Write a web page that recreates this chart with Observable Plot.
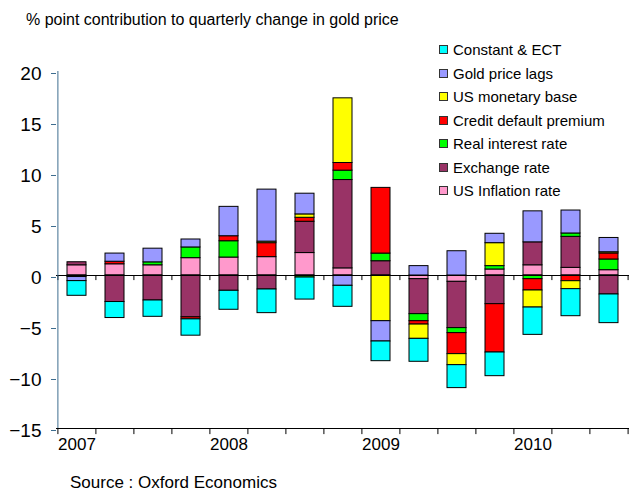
<!DOCTYPE html>
<html>
<head>
<meta charset="utf-8">
<script src="https://cdn.jsdelivr.net/npm/d3@7"></script>
<script src="https://cdn.jsdelivr.net/npm/@observablehq/plot@0.6"></script>
<style>
  body { margin: 0; background: #fff; font-family: "Liberation Sans", Arial, sans-serif; }
  #wrap { position: relative; width: 630px; height: 491px; overflow: hidden; background: #fff; }
  #chart { position: absolute; left: 0; top: 0; }
  .title { position: absolute; left: 26px; top: 12px; font-size: 16px; line-height: 16px; white-space: nowrap; color: #000; }
  .source { position: absolute; left: 70px; top: 474px; font-size: 17px; line-height: 17px; white-space: nowrap; color: #000; }
  .legend { position: absolute; left: 439px; top: 38px; }
  .legend .row { height: 23.5px; display: flex; align-items: center; font-size: 15px; white-space: nowrap; }
  .legend .sw { width: 7px; height: 7px; border: 1px solid #333; margin-right: 5px; flex: none; }
</style>
</head>
<body>
<div id="wrap">
  <div id="chart"></div>
  <div class="title">% point contribution to quarterly change in gold price</div>
  <div class="legend" id="legend"></div>
  <div class="source">Source : Oxford Economics</div>
</div>
<script>
// Quarters (categories)
const quarters = ["2007 Q1","2007 Q2","2007 Q3","2007 Q4","2008 Q1","2008 Q2","2008 Q3","2008 Q4",
                  "2009 Q1","2009 Q2","2009 Q3","2009 Q4","2010 Q1","2010 Q2","2010 Q3"];
// Year tick labels on the category axis
const yearTicks = ["2007 Q1","2008 Q1","2009 Q1","2010 Q1"];
const yearLabels = ["2007","2008","2009","2010"];
// Y axis ticks
const yTicks = [-15,-10,-5,0,5,10,15,20];

// Series in stacking order (bottom first)
const seriesNames = ["US Inflation rate","Exchange rate","Real interest rate","Credit default premium",
                     "US monetary base","Gold price lags","Constant & ECT"];
const inflation = [1.0, 1.1, 1.0, 1.7, 1.76, 1.8, 2.2, 0.7, 0, -0.36, -0.62, 0.59, 1.0, 0.75, 0.52];
const exchange  = [0.3, -2.6, -2.45, -4.1, -1.5, -1.37, 3.07, 8.66, 1.4, -3.43, -4.54, -2.81, 2.25, 3.04, -1.86];
const realRate  = [-0.15, 0, 0.29, 1.05, 1.6, 0, -0.2, 0.92, 0.75, -0.69, -0.49, 0.33, -0.36, 0.33, 1.05];
const credit    = [0, 0.25, 0, -0.2, 0.49, 1.37, 0.39, 0.75, 6.44, -0.33, -2.06, -4.74, -1.11, -0.56, 0.59];
const monetary  = [0, 0, 0, 0, 0, 0.15, 0.33, 6.34, -4.48, -1.4, -1.08, 2.25, -1.67, -0.78, 0.12];
const goldLags  = [-0.4, 0.8, 1.34, 0.78, 2.88, 5.1, 2.03, -1.01, -1.99, 0.92, 2.38, 0.92, 3.04, 2.25, 1.4];
const constant  = [-1.44, -1.57, -1.6, -1.6, -1.86, -2.32, -2.16, -2.06, -1.93, -2.25, -2.25, -2.32, -2.68, -2.65, -2.81];

// Styles
const seriesColors = ["#FF99CC","#993366","#00FF00","#FF0000","#FFFF00","#9999FF","#00FFFF"];
const axisColor = "#3d6d8f";

const seriesValues = [inflation, exchange, realRate, credit, monetary, goldLags, constant];
const rows = [];
seriesNames.forEach((s, si) => {
  seriesValues[si].forEach((v, qi) => {
    if (v !== 0) rows.push({quarter: quarters[qi], series: s, value: v});
  });
});

const W = 630, H = 491, mL = 56, mR = 1, mT = 71, mB = 63;
const step = (W - mL - mR) / quarters.length;
const lastQ = [quarters[quarters.length - 1]];
const firstQ = [quarters[0]];

const chart = Plot.plot({
  width: W, height: H,
  marginLeft: mL, marginRight: mR, marginTop: mT, marginBottom: mB,
  style: {fontFamily: "'Liberation Sans', Arial, sans-serif", background: "white", color: "black"},
  x: {type: "band", domain: quarters, paddingInner: 0.5, paddingOuter: 0.25, align: 0.5},
  y: {domain: [-15, 20]},
  color: {domain: seriesNames, range: seriesColors},
  marks: [
    Plot.barY(rows, {x: "quarter", y: "value", fill: "series", stroke: "black", strokeWidth: 1}),
    // zero line with category tick marks
    Plot.ruleY([0], {stroke: "black", strokeWidth: 1}),
    Plot.ruleX(quarters, {x: d => d, y1: 0, y2: -0.5, dx: -step / 2, stroke: "black"}),
    Plot.ruleX(lastQ, {x: d => d, y1: 0, y2: -0.5, dx: step / 2, stroke: "black"}),
    // bottom category axis line with ticks
    Plot.ruleY([-15], {stroke: "black", strokeWidth: 1}),
    Plot.ruleX(quarters, {x: d => d, y1: -15, y2: -15.6, dx: -step / 2, stroke: "black"}),
    Plot.ruleX(lastQ, {x: d => d, y1: -15, y2: -15.6, dx: step / 2, stroke: "black"}),
    // y axis line
    Plot.ruleX(firstQ, {x: d => d, y1: -15, y2: 20, dx: -step / 2, stroke: axisColor}),
    Plot.axisY({ticks: yTicks, tickSize: 5, tickPadding: 10, fontSize: 19, stroke: axisColor, fill: "black", label: null, dy: 2}),
    Plot.axisX({ticks: yearTicks, tickFormat: d => yearLabels[yearTicks.indexOf(d)], tickSize: 0, tickPadding: 9, fontSize: 17, label: null})
  ]
});
document.getElementById("chart").appendChild(chart);

// Legend (top to bottom is reverse of stacking order)
const legend = document.getElementById("legend");
for (let i = seriesNames.length - 1; i >= 0; i--) {
  const row = document.createElement("div");
  row.className = "row";
  const sw = document.createElement("span");
  sw.className = "sw";
  sw.style.background = seriesColors[i];
  const label = document.createElement("span");
  label.textContent = seriesNames[i];
  row.appendChild(sw);
  row.appendChild(label);
  legend.appendChild(row);
}
</script>
</body>
</html>
